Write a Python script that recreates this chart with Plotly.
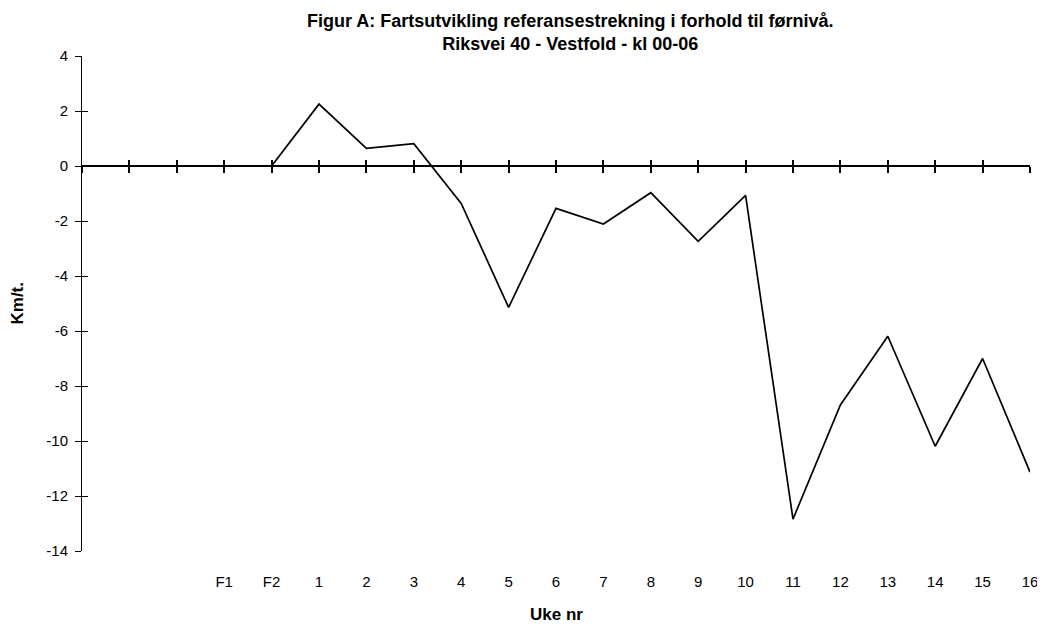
import plotly.graph_objects as go

week_labels = ["", "", "", "F1", "F2", "1", "2", "3", "4", "5", "6", "7", "8",
               "9", "10", "11", "12", "13", "14", "15", "16"]
speed_change = [None, None, None, None, 0.0, 2.25, 0.64, 0.81, -1.36, -5.14,
                -1.54, -2.11, -0.97, -2.74, -1.07, -12.84, -8.69, -6.19,
                -10.19, -7.0, -11.13]
y_ticks = [4, 2, 0, -2, -4, -6, -8, -10, -12, -14]
y_tick_text = ["4", "2", "0", "-2", "-4", "-6", "-8", "-10", "-12", "-14"]

x_pos = list(range(len(week_labels)))
Y_MIN, Y_MAX = -14, 4
zero_pos = (0 - Y_MIN) / (Y_MAX - Y_MIN)

FONT = "Liberation Sans, Arial, sans-serif"
TICK_SIZE = 15

fig = go.Figure()
fig.add_trace(go.Scatter(x=x_pos, y=speed_change, mode="lines",
                         line=dict(color="black", width=1.7),
                         connectgaps=False, showlegend=False,
                         hoverinfo="skip"))

# invisible traces so the overlay axes render
fig.add_trace(go.Scatter(x=x_pos, y=speed_change, xaxis="x2", yaxis="y",
                         mode="none", showlegend=False, hoverinfo="skip"))
fig.add_trace(go.Scatter(x=x_pos, y=speed_change, xaxis="x3", yaxis="y",
                         mode="none", showlegend=False, hoverinfo="skip"))
fig.add_trace(go.Scatter(x=x_pos, y=speed_change, xaxis="x", yaxis="y2",
                         mode="none", showlegend=False, hoverinfo="skip"))

x_range = [0, len(week_labels) - 1]

fig.update_layout(
    width=1045, height=626,
    paper_bgcolor="white", plot_bgcolor="white",
    margin=dict(l=74, r=23, t=47.5, b=82.5),
    font=dict(family=FONT, size=TICK_SIZE, color="black"),
    title=dict(
        text="Figur A: Fartsutvikling referansestrekning i forhold til førnivå.<br>Riksvei 40 - Vestfold - kl 00-06",
        xref="container", x=0.538, xanchor="center",
        yref="container", y=1 - 18.5 / 626, yanchor="middle",
        font=dict(family=FONT, size=18, color="black", weight="bold"),
    ),
    xaxis=dict(
        range=x_range, tickmode="array", tickvals=x_pos, ticktext=week_labels,
        showline=False, showgrid=False, zeroline=False, ticks="",
        ticklabelstandoff=20, automargin=False,
        tickfont=dict(size=TICK_SIZE),
        fixedrange=True,
    ),
    xaxis2=dict(
        overlaying="x", matches="x", anchor="free", position=zero_pos,
        showline=True, linecolor="black", linewidth=1.6,
        ticks="outside", ticklen=6, tickwidth=1.5, tickcolor="black",
        tickmode="array", tickvals=x_pos, showticklabels=False,
        showgrid=False, zeroline=False, automargin=False,
    ),
    xaxis3=dict(
        overlaying="x", matches="x", anchor="free", position=zero_pos,
        showline=False,
        ticks="inside", ticklen=6, tickwidth=1.5, tickcolor="black",
        tickmode="array", tickvals=x_pos, showticklabels=False,
        showgrid=False, zeroline=False, automargin=False,
    ),
    yaxis=dict(
        range=[Y_MIN, Y_MAX], tickmode="array", tickvals=y_ticks,
        ticktext=y_tick_text, tickfont=dict(size=TICK_SIZE),
        showline=True, linecolor="black", linewidth=1,
        ticks="outside", ticklen=6, tickwidth=1, tickcolor="black",
        ticklabelstandoff=4,
        showgrid=False, zeroline=False, automargin=False,
        fixedrange=True,
    ),
    yaxis2=dict(
        overlaying="y", matches="y", anchor="x",
        showline=False,
        ticks="inside", ticklen=6, tickwidth=1, tickcolor="black",
        tickmode="array", tickvals=y_ticks, showticklabels=False,
        showgrid=False, zeroline=False, automargin=False,
    ),
    annotations=[
        dict(text="<b>Uke nr</b>", xref="paper", yref="paper",
             x=0.5, y=0, xanchor="center", yanchor="middle", yshift=-63,
             showarrow=False, font=dict(family=FONT, size=17)),
        dict(text="<b>Km/t.</b>", xref="paper", yref="paper",
             x=0, y=0.5, xanchor="center", yanchor="middle", xshift=-65,
             textangle=-90, showarrow=False,
             font=dict(family=FONT, size=17)),
    ],
)

fig.write_html("out.html")
